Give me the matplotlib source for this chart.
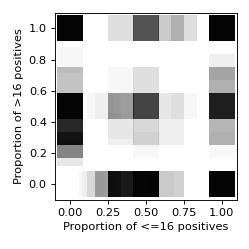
import numpy as np
import matplotlib
matplotlib.use("Agg")
import matplotlib.pyplot as plt

# unique (x, y) proportions and how many observations sit on each one
x_vals = [0, 1/3, 1/2, 2/3, 3/4, 1,
          0, 1,
          0, 1/3, 1/2, 1,
          0, 1/5, 1/4, 1/3, 1/2, 2/3, 3/4, 1,
          1/3,
          0, 1/3, 1/2, 2/3, 1,
          0, 1/2, 1,
          0,
          1/7, 1/6, 1/5, 1/4, 1/3, 1/2, 3/5, 2/3, 1]
y_vals = [1, 1, 1, 1, 1, 1,
          0.8, 0.75,
          2/3, 2/3, 2/3, 2/3,
          1/2, 1/2, 1/2, 1/2, 1/2, 1/2, 1/2, 1/2,
          0.375,
          1/3, 1/3, 1/3, 1/3, 1/3,
          1/4, 1/4, 1/4,
          1/5,
          0, 0, 0, 0, 0, 0, 0, 0, 0]
counts = [80, 4, 32, 7, 4, 80,
          1, 2,
          8, 1, 4, 11,
          80, 1, 1, 14, 37, 3, 1, 55,
          1,
          50, 2, 5, 2, 10,
          16, 1, 1,
          3,
          1, 1, 3, 10, 60, 80, 1, 6, 80]

xs = np.repeat(x_vals, counts)
ys = np.repeat(y_vals, counts)

fig = plt.figure(figsize=(249/82, 249/82), dpi=82)
ax = fig.add_axes([0.22, 0.197, 0.731, 0.752])
ax.scatter(xs, ys, marker='s', s=520, color='k', alpha=0.03, linewidths=0)

ax.set_xlim(-0.1, 1.1)
ax.set_ylim(-0.1, 1.1)
ax.set_xticks([0, 0.25, 0.5, 0.75, 1.0])
ax.set_xticklabels(['0.00', '0.25', '0.50', '0.75', '1.00'])
ax.set_yticks([0, 0.2, 0.4, 0.6, 0.8, 1.0])
ax.set_xlabel('Proportion of <=16 positives')
ax.set_ylabel('Proportion of >16 positives')

fig.savefig('out.png', dpi=82)
